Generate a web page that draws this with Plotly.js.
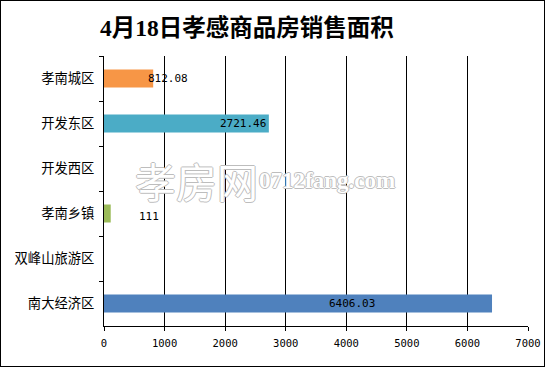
<!DOCTYPE html>
<html><head><meta charset="utf-8">
<script src="https://cdn.plot.ly/plotly-3.0.1.min.js"></script>
<style>
html,body{margin:0;padding:0;background:#fff;}
#wrap{position:relative;width:545px;height:367px;}
#chart{width:545px;height:367px;}
#frame{position:absolute;left:0;top:0;width:545px;height:367px;box-sizing:border-box;border:1px solid #000;pointer-events:none;}
</style></head>
<body>
<div id="wrap"><div id="chart"></div><div id="frame"></div></div>
<script>
var categories = ["孝南城区", "开发东区", "开发西区", "孝南乡镇", "双峰山旅游区", "南大经济区"];
var values = [812.08, 2721.46, null, 111, null, 6406.03];
var valueLabels = ["812.08", "2721.46", "", "111", "", "6406.03"];
var xTicks = [0, 1000, 2000, 3000, 4000, 5000, 6000, 7000];

var colors = ["#F79646", "#4BACC6", "#8064A2", "#9BBB59", "#C0504D", "#4F81BD"];
var labelStyle = [
  {anchor: "left", shift: -7, yshift: 0},
  {anchor: "right", shift: -1, yshift: 0},
  null,
  {anchor: "left", shift: 26, yshift: -3},
  null,
  {anchor: "right", shift: -115, yshift: 0}
];

var annotations = [];
for (var i = 0; i < categories.length; i++) {
  if (values[i] == null || !labelStyle[i]) continue;
  var s = labelStyle[i];
  annotations.push({
    x: values[i], y: categories[i], xref: "x", yref: "y",
    text: valueLabels[i], showarrow: false,
    xanchor: s.anchor, xshift: s.shift, yshift: s.yshift,
    font: {family: "DejaVu Sans Mono, monospace", size: 11, color: "#000"}
  });
}
// watermark
var wmShadow = "1px 0 0 #bdbdbd, -1px 0 0 #bdbdbd, 0 1px 0 #bdbdbd, 0 -1px 0 #bdbdbd";
annotations.push({
  xref: "paper", yref: "paper", x: 0.068, y: 0.54, xanchor: "left", yanchor: "middle",
  text: "孝房网", showarrow: false,
  font: {family: "Noto Sans CJK SC", size: 41, weight: 400, color: "#ffffff", shadow: wmShadow}
});
annotations.push({
  xref: "paper", yref: "paper", x: 0.362, y: 0.54, xanchor: "left", yanchor: "middle",
  text: "0712fang.com", showarrow: false,
  font: {family: "Liberation Serif, serif", size: 23, weight: 700, color: "#ffffff", shadow: wmShadow}
});

var trace = {
  type: "bar", orientation: "h",
  y: categories, x: values,
  marker: {color: colors},
  width: 0.4,
  hoverinfo: "none"
};

var layout = {
  width: 545, height: 367,
  margin: {l: 104, r: 17, t: 56, b: 41},
  paper_bgcolor: "#fff", plot_bgcolor: "#fff",
  showlegend: false,
  title: {
    text: "4月18日孝感商品房销售面积",
    xref: "container", yref: "container",
    x: 100/545, xanchor: "left", y: 1 - 28/367, yanchor: "middle",
    font: {family: "Liberation Serif, Noto Sans CJK SC, serif", size: 23.5, weight: 700, color: "#000"}
  },
  xaxis: {
    range: [0, 7000], tickvals: xTicks, ticktext: xTicks.map(String),
    showgrid: true, gridcolor: "#000", gridwidth: 1,
    zeroline: false,
    showline: true, linecolor: "#000", linewidth: 1,
    ticks: "outside", ticklen: 4, tickcolor: "#000",
    tickfont: {family: "DejaVu Sans Mono, monospace", size: 10.5, color: "#000"},
    ticklabelstandoff: 3,
    fixedrange: true
  },
  yaxis: {
    type: "category", autorange: "reversed",
    showgrid: false, zeroline: false,
    showline: true, linecolor: "#000", linewidth: 1,
    ticks: "outside", ticklen: 4, tickcolor: "#000", tickson: "boundaries",
    tickfont: {family: "Noto Sans CJK SC", size: 13.3, color: "#000"},
    ticklabelstandoff: 6,
    fixedrange: true
  },
  annotations: annotations
};

Plotly.newPlot("chart", [trace], layout, {staticPlot: true, displayModeBar: false});
</script>
</body></html>
